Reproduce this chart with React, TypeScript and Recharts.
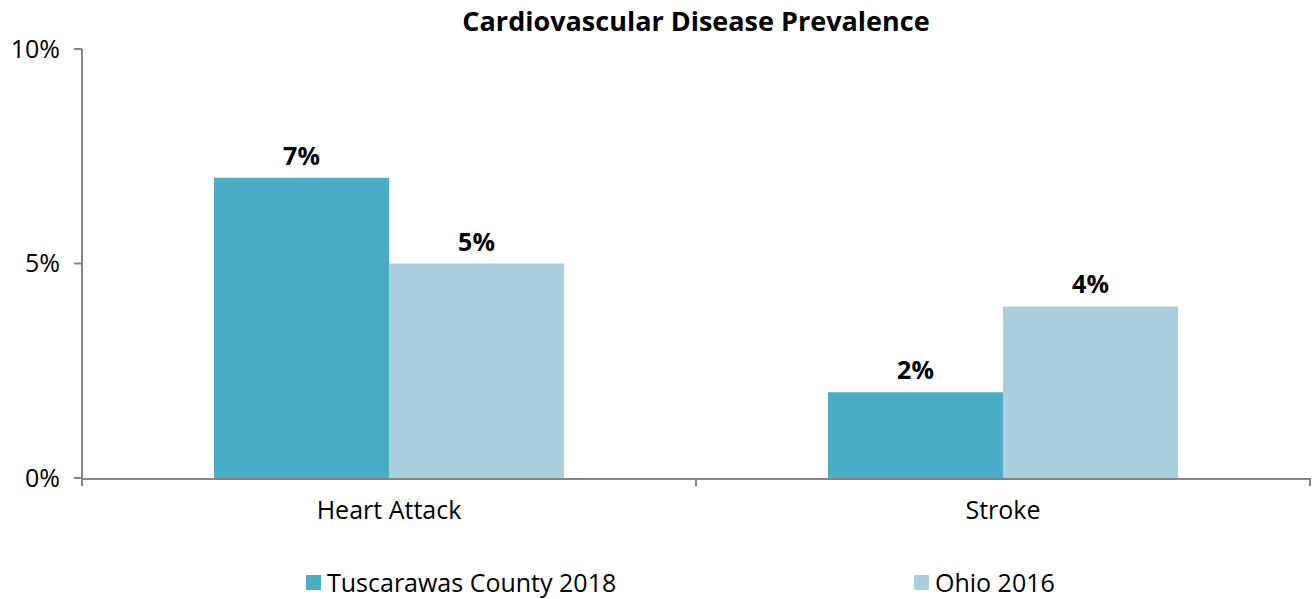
import React from 'react';
import { BarChart, Bar, XAxis, YAxis, LabelList, Legend } from 'recharts';

const categories = ['Heart Attack', 'Stroke'];
const tuscarawas2018 = [7, 2];
const ohio2016 = [5, 4];
const yTicks = [0, 5, 10];

const seriesNames = { county: 'Tuscarawas County 2018', ohio: 'Ohio 2016' };
const colors = { county: '#4BACC6', ohio: '#A9CFDC' };

const data = categories.map((name, i) => ({
  name,
  idx: i + 0.5,
  county: tuscarawas2018[i],
  ohio: ohio2016[i],
}));

const FONT = '"Open Sans", "Noto Sans", sans-serif';
const AXIS = '#868686';

function LegendBox() {
  const items = [
    { key: 'county', label: seriesNames.county },
    { key: 'ohio', label: seriesNames.ohio },
  ];
  return (
    <div style={{ display: 'flex', paddingLeft: 306, paddingTop: 26, fontFamily: FONT, fontSize: 25, color: '#000' }}>
      {items.map(it => (
        <div key={it.key} style={{ width: 608, flexShrink: 0, display: 'flex', alignItems: 'center' }}>
          <span style={{ width: 15, height: 15, background: colors[it.key as 'county' | 'ohio'], marginRight: 6, display: 'inline-block' }} />
          <span>{it.label}</span>
        </div>
      ))}
    </div>
  );
}

const labelStyle = { fill: '#000', fontWeight: 700, fontSize: 25, fontFamily: FONT };

export default function App() {
  return (
    <div style={{ position: 'absolute', left: 0, top: 0, width: 1312, height: 599, background: '#fff', overflow: 'hidden' }}>
      <div style={{ position: 'absolute', left: 82, width: 1228, top: 2, textAlign: 'center', fontFamily: FONT, fontWeight: 700, fontSize: 27, color: '#000' }}>
        Cardiovascular Disease Prevalence
      </div>
      <BarChart
        width={1312}
        height={599}
        data={data}
        margin={{ top: 49, right: 2, left: 0, bottom: 0 }}
        barCategoryGap="21.5%"
        barGap={0}
      >
        {/* boundary ticks between categories, like the original axis */}
        <XAxis
          xAxisId="a"
          type="number"
          dataKey="idx"
          domain={[0, 2]}
          ticks={[0, 1, 2]}
          tick={() => <g />}
          axisLine={false}
          tickLine={{ stroke: AXIS, strokeWidth: 2 }}
          tickSize={8}
          height={1}
        />
        <XAxis
          xAxisId="b"
          dataKey="name"
          tickLine={false}
          axisLine={{ stroke: AXIS, strokeWidth: 2 }}
          tick={{ fill: '#000', fontSize: 25, fontFamily: FONT }}
          tickMargin={16}
          height={60}
        />
        <YAxis
          domain={[0, 10]}
          ticks={yTicks}
          tickFormatter={(v) => `${v}%`}
          width={82}
          axisLine={{ stroke: AXIS, strokeWidth: 2 }}
          tickLine={{ stroke: AXIS, strokeWidth: 2 }}
          tickSize={8}
          tickMargin={14}
          tick={{ fill: '#000', fontSize: 25, fontFamily: FONT }}
        />
        <Legend verticalAlign="bottom" height={60} content={<LegendBox />} />
        <Bar xAxisId="b" dataKey="county" name={seriesNames.county} fill={colors.county} isAnimationActive={false}>
          <LabelList dataKey="county" position="top" offset={13} formatter={(v: any) => `${v}%`} style={labelStyle} />
        </Bar>
        <Bar xAxisId="b" dataKey="ohio" name={seriesNames.ohio} fill={colors.ohio} isAnimationActive={false}>
          <LabelList dataKey="ohio" position="top" offset={13} formatter={(v: any) => `${v}%`} style={labelStyle} />
        </Bar>
      </BarChart>
    </div>
  );
}
